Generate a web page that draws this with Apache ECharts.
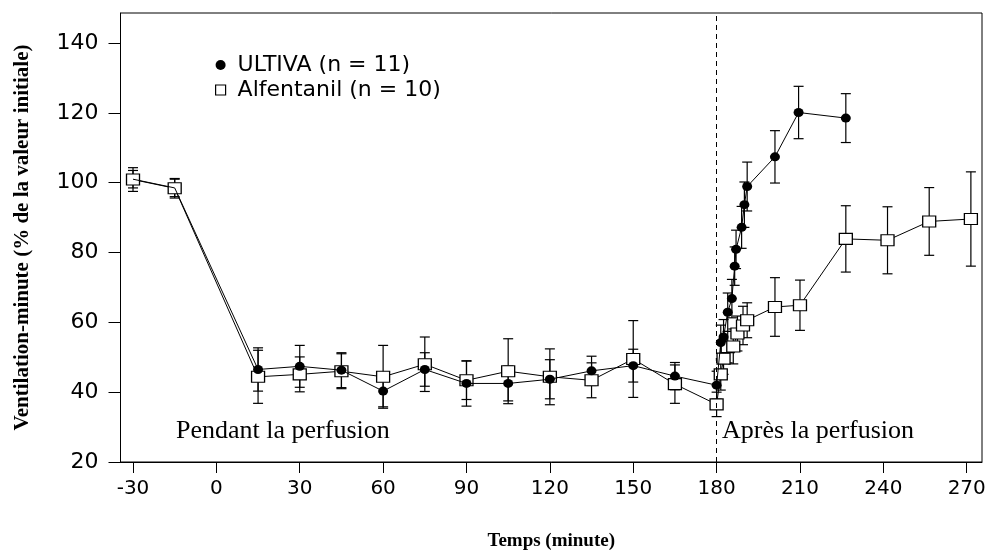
<!DOCTYPE html>
<html>
<head>
<meta charset="utf-8">
<script src="https://cdn.jsdelivr.net/npm/echarts@6/dist/echarts.min.js"></script>
<style>html,body{margin:0;padding:0;background:#fff;}#c{width:985px;height:554px;}</style>
</head>
<body>
<div id="c"></div>
<script>
// ---- data ----
var xTicks = [-30, 0, 30, 60, 90, 120, 150, 180, 210, 240, 270];
var yTicks = [20, 40, 60, 80, 100, 120, 140];

var ultTimes = [-30, -15, 15, 30, 45, 60, 75, 90, 105, 120, 135, 150, 165, 180, 181.5, 182.5, 184, 185.5, 186.5, 187, 189, 190, 191, 201, 209.5, 226.5];
var ultMeans = [101, 98.5, 46.5, 47.4, 46.3, 40.3, 46.5, 42.5, 42.5, 43.7, 46.1, 47.6, 44.6, 42, 54.2, 55.8, 62.9, 66.8, 76.1, 80.9, 87.2, 93.7, 98.9, 107.4, 120.1, 118.5];
var ultErr   = [2.5, 2.5, 6.2, 6, 5, 4.5, 4.8, 6.5, 5, 5.6, 4.2, 4.7, 3.9, 4, 5, 5, 5.5, 5.5, 5.5, 5.5, 6, 6.5, 7, 7.5, 7.5, 7];

var alfTimes = [-30, -15, 15, 30, 45, 60, 75, 90, 105, 120, 135, 150, 165, 180, 181.5, 182.5, 184, 186, 187.5, 189.5, 191, 201, 210, 226.5, 241.5, 256.5, 271.5];
var alfMeans = [100.9, 98.4, 44.4, 45.1, 46.0, 44.4, 48.0, 43.4, 46.0, 44.4, 43.4, 49.5, 42.3, 36.5, 45.1, 49.6, 52.9, 53.1, 56.8, 59.1, 60.6, 64.4, 64.9, 83.9, 83.5, 88.9, 89.6];
var alfErr   = [3.4, 2.8, 7.6, 5, 5, 9, 7.8, 5.5, 9.3, 8, 5, 11, 5.5, 3.5, 4.5, 4.5, 4.5, 5, 5, 5.5, 5, 8.4, 7.2, 9.5, 9.6, 9.7, 13.5];

var ultName = 'ULTIVA (n = 11)';
var alfName = 'Alfentanil (n = 10)';

// ---- build ----
function errData(ts, ms, es) {
  return ts.map(function (t, i) { return [t, ms[i] - es[i], ms[i] + es[i]]; });
}
function errRender(params, api) {
  var x = api.value(0), lo = api.value(1), hi = api.value(2);
  var pLo = api.coord([x, lo]), pHi = api.coord([x, hi]);
  var cw = 5;
  var st = { stroke: '#000', lineWidth: 1.2 };
  return {
    type: 'group',
    children: [
      { type: 'line', shape: { x1: pLo[0], y1: pLo[1], x2: pHi[0], y2: pHi[1] }, style: st },
      { type: 'line', shape: { x1: pLo[0] - cw, y1: pLo[1], x2: pLo[0] + cw, y2: pLo[1] }, style: st },
      { type: 'line', shape: { x1: pHi[0] - cw, y1: pHi[1], x2: pHi[0] + cw, y2: pHi[1] }, style: st }
    ]
  };
}

var ultData = ultTimes.map(function (t, i) {
  return i < 2 ? { value: [t, ultMeans[i]], symbol: 'none' } : [t, ultMeans[i]];
});
var alfData = alfTimes.map(function (t, i) { return [t, alfMeans[i]]; });

var chart = echarts.init(document.getElementById('c'), null, { renderer: 'canvas' });
chart.setOption({
  animation: false,
  backgroundColor: '#fff',
  grid: { left: 120.5, right: 3, top: 13, bottom: 92, show: true, borderColor: '#000', borderWidth: 1, containLabel: false, outerBoundsMode: 'none' },
  xAxis: {
    type: 'value', min: -34.5, max: 275.5,
    name: 'Temps (minute)', nameLocation: 'middle', nameGap: 70,
    nameTextStyle: { fontFamily: 'Liberation Serif', fontWeight: 'bold', fontSize: 19, color: '#000' },
    axisLine: { show: true, onZero: false, lineStyle: { color: '#000', width: 1 } },
    axisTick: { show: true, length: 11, customValues: xTicks, lineStyle: { color: '#000' } },
    axisLabel: { customValues: xTicks, margin: 17, fontFamily: 'DejaVu Sans', fontSize: 20, color: '#000' },
    splitLine: { show: false }
  },
  yAxis: {
    type: 'value', min: 20, max: 148.6,
    name: 'Ventilation-minute (% de la valeur initiale)', nameLocation: 'middle', nameGap: 87, nameRotate: 90,
    nameTextStyle: { fontFamily: 'Liberation Serif', fontWeight: 'bold', fontSize: 21, color: '#000' },
    axisLine: { show: true, onZero: false, lineStyle: { color: '#000', width: 1 } },
    axisTick: { show: true, length: 12, customValues: yTicks, lineStyle: { color: '#000' } },
    axisLabel: { customValues: yTicks, margin: 22, fontFamily: 'DejaVu Sans', fontSize: 22, color: '#000' },
    splitLine: { show: false }
  },
  legend: {
    left: 215, top: 53, orient: 'vertical', itemGap: 1, itemWidth: 10, itemHeight: 10,
    padding: 0,
    textStyle: { fontFamily: 'DejaVu Sans', fontSize: 22, color: '#000', lineHeight: 24, padding: [0, 0, 0, 7] },
    data: [
      { name: ultName, icon: 'circle', itemStyle: { color: '#000', borderWidth: 0 } },
      { name: alfName, icon: 'rect', itemStyle: { color: '#fff', borderColor: '#000', borderWidth: 1.2 } }
    ]
  },
  graphic: [
    { type: 'text', left: 176, top: 418, style: { text: 'Pendant la perfusion', font: '26px "Liberation Serif"', fill: '#000' } },
    { type: 'text', left: 722, top: 418, style: { text: 'Après la perfusion', font: '26px "Liberation Serif"', fill: '#000' } }
  ],
  series: [
    { type: 'custom', name: 'errAlf', renderItem: errRender, data: errData(alfTimes, alfMeans, alfErr), z: 1, silent: true },
    { type: 'custom', name: 'errUlt', renderItem: errRender, data: errData(ultTimes, ultMeans, ultErr), z: 1, silent: true },
    {
      type: 'line', name: alfName, data: alfData, z: 2,
      symbol: 'rect', symbolSize: [13, 11], showAllSymbol: true,
      lineStyle: { color: '#000', width: 1 },
      itemStyle: { color: '#fff', borderColor: '#000', borderWidth: 1.2 }
    },
    {
      type: 'line', name: ultName, data: ultData, z: 3,
      symbol: 'circle', symbolSize: [10, 9], showAllSymbol: true,
      lineStyle: { color: '#000', width: 1 },
      itemStyle: { color: '#000', borderWidth: 0 },
      markLine: {
        silent: true, symbol: 'none', label: { show: false },
        lineStyle: { color: '#000', type: [5, 4], width: 1 },
        data: [{ xAxis: 180 }]
      }
    }
  ]
});
</script>
</body>
</html>
